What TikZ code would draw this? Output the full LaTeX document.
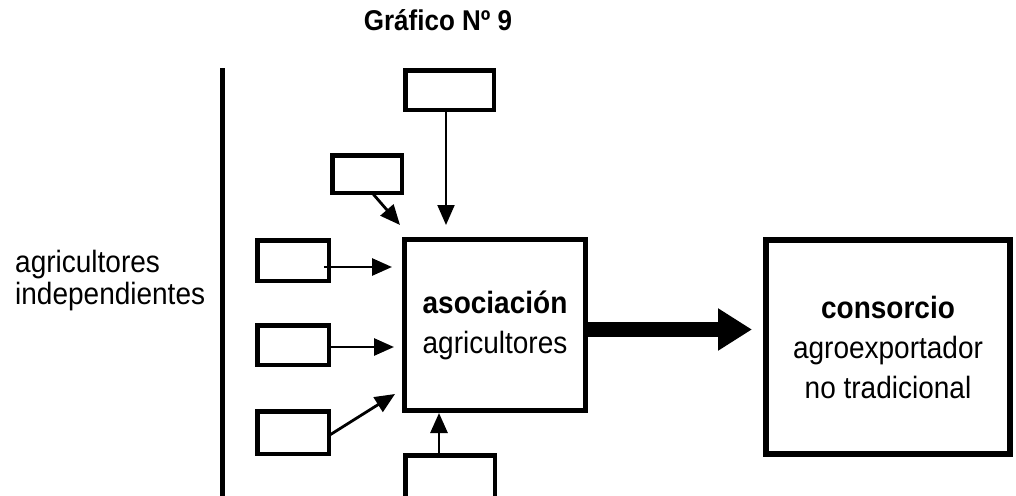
\documentclass[tikz,border=0pt]{standalone}
\usepackage{fontspec}
\setmainfont{Liberation Sans}
\usetikzlibrary{arrows.meta,calc}

% slightly tall lettering
\newcommand{\tallline}[1]{\scalebox{1}[1.1]{#1}}

\tikzset{
  smallbox/.style={draw=black, line width=4.5pt, inner sep=0pt, outer sep=0pt},
  bigbox/.style={draw=black, inner sep=0pt, outer sep=0pt, align=center,
    font=\fontsize{28}{40}\selectfont},
  arr/.style={draw=black, line width=2.8pt,
    -{Triangle[length=20pt,width=17pt]}},
  bigarr/.style={draw=black, line width=15pt,
    -{Triangle[length=34pt,width=40pt]}},
  lbl/.style={inner sep=0pt, font=\fontsize{28}{32}\selectfont},
}

\begin{document}
\begin{tikzpicture}[x=1pt, y=-1pt]
  \useasboundingbox (0,0) rectangle (1016,495);

  % title
  \node[inner sep=0pt, anchor=base, font=\bfseries\fontsize{26}{30}\selectfont]
    (title) at (438,31) {\tallline{Gráfico Nº 9}};

  % divider
  \draw[line width=5pt] (222,68) -- (222,500);

  % left label
  \node[lbl, anchor=base west] (lbl1) at (15,272) {\tallline{agricultores}};
  \node[lbl, anchor=base west] (lbl2) at (15,304) {\tallline{independientes}};

  % main boxes
  \node[bigbox, line width=5pt, minimum width=181pt, minimum height=171pt]
    (assoc) at (495,325) {\tallline{\textbf{asociación}}\\\tallline{agricultores}};
  \node[bigbox, line width=6pt, minimum width=244pt, minimum height=214pt]
    (cons) at (888,347) {\tallline{\textbf{consorcio}}\\\tallline{agroexportador}\\\tallline{no tradicional}};

  % small input boxes
  \node[smallbox, minimum width=88.5pt, minimum height=39.5pt] (bt) at (449.5,90) {};
  \node[smallbox, minimum width=69.5pt, minimum height=37.5pt] (bu) at (367,174) {};
  \node[smallbox, minimum width=71.5pt, minimum height=40.5pt] (b1) at (293,260.5) {};
  \node[smallbox, minimum width=71.5pt, minimum height=39.5pt] (b2) at (293,345) {};
  \node[smallbox, minimum width=71.5pt, minimum height=42.5pt] (b3) at (293,432.5) {};
  \node[smallbox, minimum width=89.5pt, minimum height=44pt] (bb) at (450,477.5) {};

  % arrow ends next to the association box
  \coordinate (tT) at (446,225);
  \coordinate (tU) at (400,225);
  \coordinate (t1) at (392,267);
  \coordinate (t2) at (394,347);
  \coordinate (t3) at (395,394);
  \coordinate (tB) at (439,413);
  \coordinate (tC) at (752,329.5);

  % input arrows
  \draw[arr, line width=2pt] (bt.south -| tT) -- (tT);
  \draw[arr] ($(bu.south)+(5,0)$) -- (tU);
  \draw[arr] ($(b1.east)+(-5,6.5)$) -- (t1);
  \draw[arr] ($(b2.east)+(0,2)$) -- (t2);
  \draw[arr] ($(b3.east)+(1,2.5)$) -- (t3);
  \draw[arr] (bb.north -| tB) -- (tB);

  % output arrow
  \draw[bigarr] (assoc.east |- tC) -- (tC);
\end{tikzpicture}
\end{document}
